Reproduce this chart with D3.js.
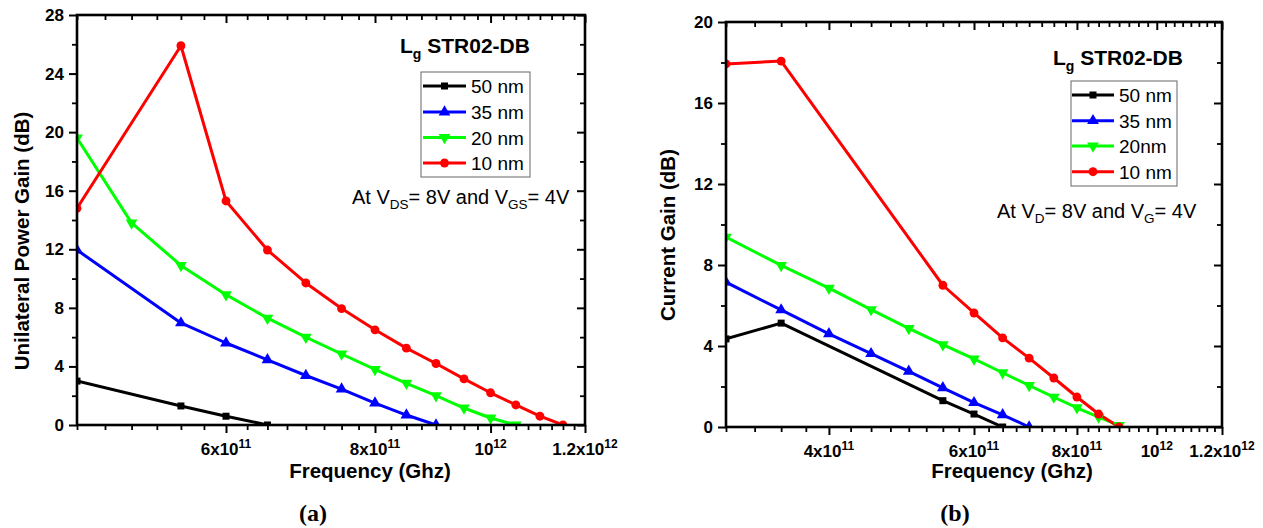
<!DOCTYPE html>
<html>
<head>
<meta charset="utf-8">
<script src="https://cdn.jsdelivr.net/npm/d3@7"></script>
<style>
  html, body { margin: 0; padding: 0; background: #fff; }
  svg { display: block; }
  .tick-label { font-family: "Liberation Sans", Arial, sans-serif; font-weight: bold; font-size: 17px; fill: #000; }
  .axis-title { font-family: "Liberation Sans", Arial, sans-serif; font-weight: bold; font-size: 20.5px; fill: #000; }
  .legend-title { font-family: "Liberation Sans", Arial, sans-serif; font-weight: bold; font-size: 21px; fill: #000; }
  .legend-text { font-family: "Liberation Sans", Arial, sans-serif; font-size: 19px; fill: #000; }
  .note { font-family: "Liberation Sans", Arial, sans-serif; font-size: 20px; fill: #000; }
  .panel-tag { font-family: "Liberation Serif", "Times New Roman", serif; font-weight: bold; font-size: 24px; fill: #000; }
</style>
</head>
<body>
<svg id="chart" width="1263" height="528"></svg>
<script>
// ---- Series names and colours ----
const seriesA = ["50 nm", "35 nm", "20 nm", "10 nm"];
const seriesB = ["50 nm", "35 nm", "20nm", "10 nm"];
const seriesColors = ["#000000", "#0000ff", "#00ff00", "#ff0000"];
const seriesMarkers = ["square", "triangleUp", "triangleDown", "circle"];

// ---- (a) Unilateral power gain (dB) vs frequency (Hz) ----
const freqA50 = [4.5e11, 5.5e11, 6.0e11, 6.5e11];
const gainA50 = [3.0, 1.3, 0.6, 0.0];
const freqA35 = [4.5e11, 5.5e11, 6.0e11, 6.5e11, 7.0e11, 7.5e11, 8.0e11, 8.5e11, 9.0e11];
const gainA35 = [11.95, 6.97, 5.6, 4.45, 3.38, 2.45, 1.5, 0.68, 0.0];
const freqA20 = [4.5e11, 5.0e11, 5.5e11, 6.0e11, 6.5e11, 7.0e11, 7.5e11, 8.0e11, 8.5e11, 9.0e11, 9.5e11, 1.0e12, 1.05e12];
const gainA20 = [19.6, 13.8, 10.9, 8.9, 7.3, 6.0, 4.85, 3.8, 2.85, 2.0, 1.16, 0.48, 0.0];
const freqA10 = [4.5e11, 5.5e11, 6.0e11, 6.5e11, 7.0e11, 7.5e11, 8.0e11, 8.5e11, 9.0e11, 9.5e11, 1.0e12, 1.05e12, 1.1e12, 1.15e12];
const gainA10 = [14.8, 25.9, 15.3, 11.95, 9.7, 7.95, 6.5, 5.25, 4.2, 3.15, 2.2, 1.37, 0.6, 0.0];

// ---- (b) Current gain (dB) vs frequency (Hz) ----
const freqB50 = [3.0e11, 3.5e11, 5.5e11, 6.0e11, 6.5e11];
const gainB50 = [4.35, 5.13, 1.3, 0.64, 0.0];
const freqB35 = [3.0e11, 3.5e11, 4.0e11, 4.5e11, 5.0e11, 5.5e11, 6.0e11, 6.5e11, 7.0e11];
const gainB35 = [7.15, 5.78, 4.6, 3.62, 2.75, 1.93, 1.2, 0.6, 0.0];
const freqB20 = [3.0e11, 3.5e11, 4.0e11, 4.5e11, 5.0e11, 5.5e11, 6.0e11, 6.5e11, 7.0e11, 7.5e11, 8.0e11, 8.5e11, 9.0e11];
const gainB20 = [9.38, 7.98, 6.86, 5.8, 4.87, 4.07, 3.36, 2.68, 2.05, 1.48, 0.95, 0.49, 0.08];
const freqB10 = [3.0e11, 3.5e11, 5.5e11, 6.0e11, 6.5e11, 7.0e11, 7.5e11, 8.0e11, 8.5e11, 9.0e11];
const gainB10 = [17.93, 18.07, 7.0, 5.63, 4.4, 3.4, 2.42, 1.48, 0.64, 0.0];

// ---- Axis ticks and labels ----
const yTicksA = [0, 4, 8, 12, 16, 20, 24, 28];
const yTicksB = [0, 4, 8, 12, 16, 20];
const xTicksA = [6e11, 8e11, 1e12, 1.2e12];
const xTickLabelsA = [["6x10", "11"], ["8x10", "11"], ["10", "12"], ["1.2x10", "12"]];
const xTicksB = [4e11, 6e11, 8e11, 1e12, 1.2e12];
const xTickLabelsB = [["4x10", "11"], ["6x10", "11"], ["8x10", "11"], ["10", "12"], ["1.2x10", "12"]];

const svg = d3.select("#chart");

function zipSeries(fs, gs) { return fs.map((f, i) => [f, gs[i]]); }

function markerPath(kind) {
  if (kind === "square") return d3.symbol(d3.symbolSquare, 49)();
  if (kind === "circle") return d3.symbol(d3.symbolCircle, 62)();
  return d3.symbol(d3.symbolTriangle, 60)();
}

function drawMarker(g, kind, cx, cy, color) {
  const rot = kind === "triangleDown" ? " rotate(180)" : "";
  g.append("path")
    .attr("d", markerPath(kind))
    .attr("transform", `translate(${cx},${cy})${rot}`)
    .attr("fill", color)
    .attr("stroke", "none");
}

function drawPanel(p) {
  const g = svg.append("g");
  const x = d3.scaleLog().domain(p.xDomain).range([p.left, p.right]);
  const y = d3.scaleLinear().domain(p.yDomain).range([p.bottom, p.top]);

  const clipId = "clip-" + p.id;
  svg.append("defs").append("clipPath").attr("id", clipId)
    .append("rect")
    .attr("x", p.left).attr("y", p.top)
    .attr("width", p.right - p.left).attr("height", p.bottom - p.top);

  const plot = g.append("g").attr("clip-path", `url(#${clipId})`);
  const line = d3.line().x(d => x(d[0])).y(d => y(d[1]));

  p.series.forEach((s, i) => {
    plot.append("path")
      .datum(s)
      .attr("d", line)
      .attr("fill", "none")
      .attr("stroke", seriesColors[i])
      .attr("stroke-width", 3)
      .attr("stroke-linejoin", "round");
  });
  p.series.forEach((s, i) => {
    s.forEach(d => drawMarker(plot, seriesMarkers[i], x(d[0]), y(d[1]), seriesColors[i]));
  });

  // minor x ticks every 2.5e10 Hz
  const xMinor = d3.range(p.xDomain[0], p.xDomain[1] + 1, 2.5e10)
    .filter(v => !p.xTicks.some(t => Math.abs(t - v) < 1e9));
  const yMinor = d3.range(p.yDomain[0] + 2, p.yDomain[1], 4);

  const axes = g.append("g");
  function styleAxis(sel, width) {
    sel.select(".domain").remove();
    sel.selectAll(".tick line").attr("stroke", "#000").attr("stroke-width", width);
    sel.selectAll(".tick text").remove();
  }
  // bottom (outward) and top (inward)
  axes.append("g").attr("transform", `translate(0,${p.bottom})`)
    .call(d3.axisBottom(x).tickValues(p.xTicks).tickSize(8).tickFormat(""))
    .call(s => styleAxis(s, 2));
  axes.append("g").attr("transform", `translate(0,${p.bottom})`)
    .call(d3.axisBottom(x).tickValues(xMinor).tickSize(5).tickFormat(""))
    .call(s => styleAxis(s, 1.8));
  axes.append("g").attr("transform", `translate(0,${p.top})`)
    .call(d3.axisBottom(x).tickValues(p.xTicks).tickSize(8).tickFormat(""))
    .call(s => styleAxis(s, 2));
  axes.append("g").attr("transform", `translate(0,${p.top})`)
    .call(d3.axisBottom(x).tickValues(xMinor).tickSize(5).tickFormat(""))
    .call(s => styleAxis(s, 1.8));
  // left (outward) and right (inward)
  axes.append("g").attr("transform", `translate(${p.left},0)`)
    .call(d3.axisLeft(y).tickValues(p.yTicks).tickSize(8).tickFormat(""))
    .call(s => styleAxis(s, 2));
  axes.append("g").attr("transform", `translate(${p.left},0)`)
    .call(d3.axisLeft(y).tickValues(yMinor).tickSize(5).tickFormat(""))
    .call(s => styleAxis(s, 1.8));
  axes.append("g").attr("transform", `translate(${p.right},0)`)
    .call(d3.axisLeft(y).tickValues(p.yTicks).tickSize(8).tickFormat(""))
    .call(s => styleAxis(s, 2));
  axes.append("g").attr("transform", `translate(${p.right},0)`)
    .call(d3.axisLeft(y).tickValues(yMinor).tickSize(5).tickFormat(""))
    .call(s => styleAxis(s, 1.8));

  // frame
  g.append("rect")
    .attr("x", p.left).attr("y", p.top)
    .attr("width", p.right - p.left).attr("height", p.bottom - p.top)
    .attr("fill", "none").attr("stroke", "#000").attr("stroke-width", 2.6);

  // y tick labels
  p.yTicks.forEach(t => {
    g.append("text").attr("class", "tick-label")
      .attr("x", p.left - 13).attr("y", y(t) + 6)
      .attr("text-anchor", "end").text(t);
  });
  // x tick labels with superscript exponent
  p.xTicks.forEach((t, i) => {
    const lab = p.xLabels[i];
    const tx = g.append("text").attr("class", "tick-label")
      .attr("x", x(t)).attr("y", p.bottom + 30)
      .attr("text-anchor", "middle");
    tx.append("tspan").text(lab[0]);
    tx.append("tspan").attr("dy", -7).style("font-size", "12px").text(lab[1]);
  });

  // axis titles
  g.append("text").attr("class", "axis-title")
    .attr("transform", `translate(${p.yTitleX},${p.yTitleY}) rotate(-90)`)
    .attr("text-anchor", "middle").text(p.yTitle);
  g.append("text").attr("class", "axis-title")
    .attr("x", p.xTitleX).attr("y", 478)
    .attr("text-anchor", "middle").text("Frequency (Ghz)");

  // legend heading
  const lt = g.append("text").attr("class", "legend-title")
    .attr("x", p.legend.titleX).attr("y", p.legend.titleY);
  lt.append("tspan").text("L");
  lt.append("tspan").attr("dy", 6).style("font-size", "14px").text("g");
  lt.append("tspan").attr("dy", -6).text(" STR02-DB");

  // legend box
  const L = p.legend;
  g.append("rect")
    .attr("x", L.x0).attr("y", L.y0)
    .attr("width", L.x1 - L.x0).attr("height", L.y1 - L.y0)
    .attr("fill", "#fff").attr("stroke", "#666").attr("stroke-width", 1);
  p.names.forEach((name, i) => {
    const cy = L.rows[i];
    g.append("line")
      .attr("x1", L.lineX0).attr("x2", L.lineX1)
      .attr("y1", cy).attr("y2", cy)
      .attr("stroke", seriesColors[i]).attr("stroke-width", 3);
    drawMarker(g, seriesMarkers[i], (L.lineX0 + L.lineX1) / 2, cy, seriesColors[i]);
    g.append("text").attr("class", "legend-text")
      .attr("x", L.textX).attr("y", cy + 7).text(name);
  });

  // bias note
  const nt = g.append("text").attr("class", "note")
    .attr("x", p.note.x).attr("y", p.note.y);
  nt.append("tspan").text("At V");
  nt.append("tspan").attr("dy", 5).style("font-size", "13.5px").text(p.note.sub1);
  nt.append("tspan").attr("dy", -5).text("= 8V and V");
  nt.append("tspan").attr("dy", 5).style("font-size", "13.5px").text(p.note.sub2);
  nt.append("tspan").attr("dy", -5).text("= 4V");

  // panel tag
  g.append("text").attr("class", "panel-tag")
    .attr("x", p.tagX).attr("y", 521)
    .attr("text-anchor", "middle").text(p.tag);
}

drawPanel({
  id: "a",
  left: 77, right: 585, top: 15, bottom: 425,
  xDomain: [4.5e11, 1.2e12], yDomain: [0, 28],
  xTicks: xTicksA, xLabels: xTickLabelsA, yTicks: yTicksA,
  series: [zipSeries(freqA50, gainA50), zipSeries(freqA35, gainA35),
           zipSeries(freqA20, gainA20), zipSeries(freqA10, gainA10)],
  names: seriesA,
  yTitle: "Unilateral Power Gain (dB)", yTitleX: 29, yTitleY: 241,
  xTitleX: 370,
  legend: { titleX: 400, titleY: 53, x0: 421, y0: 72, x1: 530, y1: 177,
            rows: [86, 112, 137.5, 163], lineX0: 423, lineX1: 466, textX: 471 },
  note: { x: 352, y: 204, sub1: "DS", sub2: "GS" },
  tag: "(a)", tagX: 313
});

drawPanel({
  id: "b",
  left: 726, right: 1222, top: 22, bottom: 427,
  xDomain: [3e11, 1.2e12], yDomain: [0, 20],
  xTicks: xTicksB, xLabels: xTickLabelsB, yTicks: yTicksB,
  series: [zipSeries(freqB50, gainB50), zipSeries(freqB35, gainB35),
           zipSeries(freqB20, gainB20), zipSeries(freqB10, gainB10)],
  names: seriesB,
  yTitle: "Current Gain (dB)", yTitleX: 675, yTitleY: 235,
  xTitleX: 1012,
  legend: { titleX: 1053, titleY: 65, x0: 1071, y0: 81, x1: 1177, y1: 186,
            rows: [95, 120.7, 146, 171.7], lineX0: 1072, lineX1: 1114, textX: 1119 },
  note: { x: 997, y: 218, sub1: "D", sub2: "G" },
  tag: "(b)", tagX: 955
});
</script>
</body>
</html>
